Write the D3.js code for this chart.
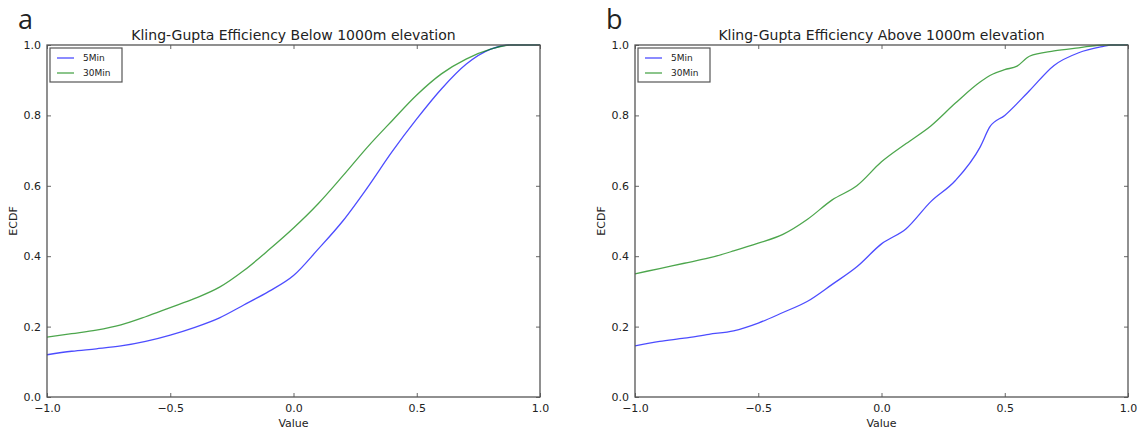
<!DOCTYPE html>
<html>
<head>
<meta charset="utf-8">
<script src="https://cdn.jsdelivr.net/npm/d3@7"></script>
<style>
  body { margin: 0; background: #fff; }
  svg { display: block; }
  text { font-family: "DejaVu Sans", sans-serif; fill: #222; }
</style>
</head>
<body>
<script>

// ECDF values (x = value, y = ECDF)
var belowX5  = [-1.0, -0.9, -0.8, -0.7, -0.6, -0.5, -0.4, -0.3, -0.2, -0.1, 0.0, 0.1, 0.2, 0.3, 0.4, 0.5, 0.6, 0.7, 0.8, 0.88];
var belowY5  = [0.12, 0.13, 0.137, 0.145, 0.158, 0.176, 0.198, 0.225, 0.262, 0.30, 0.345, 0.42, 0.50, 0.595, 0.697, 0.79, 0.875, 0.945, 0.988, 1.0];
var belowX30 = [-1.0, -0.9, -0.8, -0.7, -0.6, -0.5, -0.4, -0.3, -0.2, -0.1, 0.0, 0.1, 0.2, 0.3, 0.4, 0.5, 0.6, 0.7, 0.8, 0.88];
var belowY30 = [0.17, 0.18, 0.19, 0.205, 0.228, 0.254, 0.28, 0.312, 0.36, 0.418, 0.48, 0.549, 0.628, 0.71, 0.785, 0.858, 0.918, 0.96, 0.988, 1.0];

var aboveX5  = [-1.0, -0.9, -0.8, -0.7, -0.6, -0.5, -0.4, -0.3, -0.2, -0.1, 0.0, 0.1, 0.2, 0.3, 0.4, 0.44, 0.5, 0.6, 0.7, 0.8, 0.9, 0.93];
var aboveY5  = [0.145, 0.158, 0.167, 0.178, 0.188, 0.21, 0.24, 0.272, 0.32, 0.37, 0.435, 0.478, 0.555, 0.615, 0.71, 0.768, 0.80, 0.87, 0.942, 0.978, 0.996, 1.0];
var aboveX30 = [-1.0, -0.9, -0.8, -0.7, -0.6, -0.5, -0.4, -0.3, -0.2, -0.1, 0.0, 0.1, 0.2, 0.3, 0.4, 0.45, 0.5, 0.55, 0.6, 0.7, 0.8, 0.9];
var aboveY30 = [0.35, 0.365, 0.38, 0.395, 0.415, 0.437, 0.462, 0.505, 0.56, 0.60, 0.668, 0.72, 0.77, 0.835, 0.895, 0.917, 0.93, 0.94, 0.968, 0.983, 0.992, 1.0];

var xTicks = [-1.0, -0.5, 0.0, 0.5, 1.0];
var yTicks = [0.0, 0.2, 0.4, 0.6, 0.8, 1.0];
var seriesNames = ["5Min", "30Min"];
var seriesColors = ["#0000ff", "#008000"];

var panels = [
  { letter: "a", title: "Kling-Gupta Efficiency Below 1000m elevation", left: 47,
    series: [[belowX5, belowY5], [belowX30, belowY30]] },
  { letter: "b", title: "Kling-Gupta Efficiency Above 1000m elevation", left: 635,
    series: [[aboveX5, aboveY5], [aboveX30, aboveY30]] }
];

var W = 1140, H = 431;
var plotW = 493, plotTop = 45, plotBottom = 397;

var svg = d3.select("body").append("svg")
    .attr("width", W)
    .attr("height", H);

var fmt = d3.format(".1f");

panels.forEach(function(p) {
  var x = d3.scaleLinear().domain([-1, 1]).range([p.left, p.left + plotW]);
  var y = d3.scaleLinear().domain([0, 1]).range([plotBottom, plotTop]);
  var g = svg.append("g");

  // curves
  var line = d3.line()
      .x(function(d) { return x(d[0]); })
      .y(function(d) { return y(d[1]); })
      .curve(d3.curveMonotoneX);

  p.series.forEach(function(s, i) {
    var pts = s[0].map(function(v, j) { return [v, s[1][j]]; });
    if (pts[pts.length - 1][0] < 1) pts.push([1, 1]);
    g.append("path")
      .datum(pts)
      .attr("d", line)
      .attr("fill", "none")
      .attr("stroke", seriesColors[i])
      .attr("stroke-opacity", 0.7)
      .attr("stroke-width", 1.3);
  });

  // axes with inward ticks on all sides
  g.append("g")
      .attr("transform", "translate(0," + plotBottom + ")")
      .call(d3.axisBottom(x).tickValues(xTicks).tickFormat(fmt).tickSizeInner(-4).tickSizeOuter(0).tickPadding(7));
  g.append("g")
      .attr("transform", "translate(0," + plotTop + ")")
      .call(d3.axisTop(x).tickValues(xTicks).tickFormat("").tickSizeInner(-4).tickSizeOuter(0));
  g.append("g")
      .attr("transform", "translate(" + p.left + ",0)")
      .call(d3.axisLeft(y).tickValues(yTicks).tickFormat(fmt).tickSizeInner(-4).tickSizeOuter(0).tickPadding(6));
  g.append("g")
      .attr("transform", "translate(" + (p.left + plotW) + ",0)")
      .call(d3.axisRight(y).tickValues(yTicks).tickFormat("").tickSizeInner(-4).tickSizeOuter(0));

  g.selectAll(".domain").remove();
  g.selectAll(".tick line").attr("stroke", "#666");
  g.selectAll(".tick text").style("font-size", "11px").style("font-family", "DejaVu Sans, sans-serif").attr("fill", "#222");

  // frame
  g.append("rect")
      .attr("x", p.left).attr("y", plotTop)
      .attr("width", plotW).attr("height", plotBottom - plotTop)
      .attr("fill", "none")
      .attr("stroke", "#555")
      .attr("stroke-width", 1.3);

  // titles and labels
  g.append("text")
      .attr("x", p.left + plotW / 2).attr("y", 40)
      .attr("text-anchor", "middle")
      .style("font-size", "14px")
      .text(p.title);

  g.append("text")
      .attr("x", p.left - 29).attr("y", 29)
      .style("font-family", "Open Sans, sans-serif")
      .style("font-size", "27px")
      .attr("fill", "#000")
      .text(p.letter);

  g.append("text")
      .attr("x", p.left + plotW / 2).attr("y", 427)
      .attr("text-anchor", "middle")
      .style("font-size", "11px")
      .text("Value");

  g.append("text")
      .attr("transform", "translate(" + (p.left - 30) + "," + ((plotTop + plotBottom) / 2) + ") rotate(-90)")
      .attr("text-anchor", "middle")
      .style("font-size", "11px")
      .text("ECDF");

  // legend
  var lg = g.append("g").attr("transform", "translate(" + (p.left + 3) + "," + (plotTop + 3) + ")");
  lg.append("rect")
      .attr("width", 72).attr("height", 34)
      .attr("fill", "#fff")
      .attr("stroke", "#555")
      .attr("stroke-width", 1.2);
  seriesNames.forEach(function(name, i) {
    lg.append("line")
      .attr("x1", 7).attr("x2", 24)
      .attr("y1", 10 + i * 15).attr("y2", 10 + i * 15)
      .attr("stroke", seriesColors[i])
      .attr("stroke-opacity", 0.7)
      .attr("stroke-width", 1.3);
    lg.append("text")
      .attr("x", 33).attr("y", 13 + i * 15)
      .style("font-size", "9px")
      .text(name);
  });
});
</script>
</body>
</html>
